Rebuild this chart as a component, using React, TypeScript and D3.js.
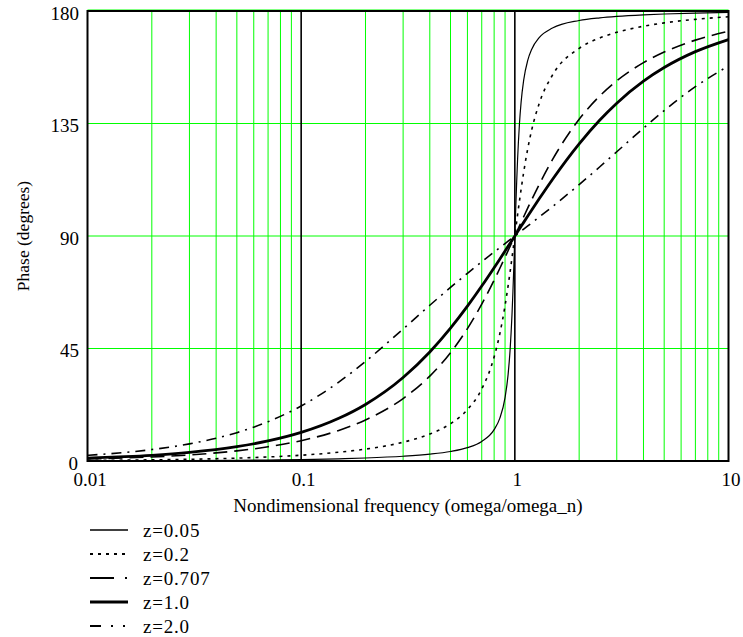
import React from "react";
import * as d3 from "d3";

// Frequency ratio (omega/omega_n)
const freq = [0.01, 0.015, 0.02, 0.03, 0.05, 0.07, 0.1, 0.15, 0.2, 0.3, 0.4, 0.5, 0.6, 0.7, 0.8, 0.85, 0.9, 0.93, 0.95, 0.97, 0.98, 0.99, 1.0, 1.01, 1.02, 1.03, 1.05, 1.07, 1.1, 1.15, 1.2, 1.3, 1.5, 2, 2.5, 3, 4, 5, 7, 10];

// Phase (degrees) per damping ratio
const phaseZ005 = [0.06, 0.09, 0.11, 0.17, 0.29, 0.4, 0.58, 0.88, 1.19, 1.89, 2.73, 3.81, 5.36, 7.82, 12.53, 17.04, 25.37, 34.54, 44.26, 58.65, 67.99, 78.63, 90, 101.26, 111.61, 120.59, 134.31, 143.55, 152.34, 160.36, 164.74, 169.33, 173.16, 176.19, 177.27, 177.85, 178.47, 178.81, 179.16, 179.42];
const phaseZ02 = [0.23, 0.34, 0.46, 0.69, 1.15, 1.61, 2.31, 3.51, 4.76, 7.51, 10.78, 14.93, 20.56, 28.77, 41.63, 50.78, 62.16, 70.04, 75.61, 81.34, 84.23, 87.12, 90, 92.85, 95.65, 98.41, 103.71, 108.7, 115.51, 125.03, 132.51, 143.0, 154.35, 165.07, 169.22, 171.47, 173.91, 175.24, 176.66, 177.69];
const phaseZ0707 = [0.81, 1.22, 1.62, 2.43, 4.05, 5.68, 8.13, 12.24, 16.42, 24.98, 33.96, 43.32, 52.97, 62.74, 72.35, 77.0, 81.51, 84.13, 85.85, 87.53, 88.36, 89.19, 90, 90.81, 91.6, 92.39, 93.95, 95.47, 97.69, 101.22, 104.54, 110.58, 120.51, 136.69, 146.04, 152.07, 159.34, 163.59, 168.35, 171.87];
const phaseZ10 = [1.15, 1.72, 2.29, 3.44, 5.73, 8.01, 11.42, 17.07, 22.62, 33.39, 43.6, 53.13, 61.93, 69.97, 77.32, 80.73, 83.97, 85.85, 87.06, 88.25, 88.84, 89.42, 90, 90.57, 91.13, 91.69, 92.79, 93.87, 95.45, 97.98, 100.39, 104.86, 112.62, 126.87, 136.4, 143.13, 151.93, 157.38, 163.74, 168.58];
const phaseZ20 = [2.29, 3.43, 4.58, 6.85, 11.34, 15.72, 22.01, 31.56, 39.81, 52.81, 62.3, 69.44, 75.07, 79.68, 83.58, 85.33, 86.98, 87.92, 88.53, 89.13, 89.42, 89.71, 90, 90.29, 90.57, 90.85, 91.4, 91.94, 92.73, 94.01, 95.24, 97.56, 101.77, 110.56, 117.7, 123.69, 133.15, 140.19, 149.74, 157.99];

const seriesLabels = ["z=0.05", "z=0.2", "z=0.707", "z=1.0", "z=2.0"];
const seriesValues = [phaseZ005, phaseZ02, phaseZ0707, phaseZ10, phaseZ20];

const xTickValues = [0.01, 0.1, 1, 10];
const xTickLabels = ["0.01", "0.1", "1", "10"];
const yTickValues = [0, 45, 90, 135, 180];

const styles = [
  { w: 1.2, dash: "", legendDash: "" },
  { w: 1.6, dash: "3,5", legendDash: "3,5" },
  { w: 1.6, dash: "14,7", legendDash: "24,11,2,10" },
  { w: 2.8, dash: "", legendDash: "" },
  { w: 1.6, dash: "10,6,2,6", legendDash: "11,10,2,10,2,10" },
];

const FONT = "Liberation Serif, Times New Roman, DejaVu Serif, serif";
const tStyle = { fontFamily: FONT };

export default function App() {
  const left = 87.5, right = 728.5, top = 11, bottom = 461;
  const x = d3.scaleLog().domain([0.01, 10]).range([left, right]);
  const y = d3.scaleLinear().domain([0, 180]).range([bottom, top]);

  const minor: number[] = [];
  [0.01, 0.1, 1].forEach((dec) => {
    for (let k = 2; k <= 9; k++) minor.push(dec * k);
  });

  const line = d3
    .line<number>()
    .x((_, i) => x(freq[i]))
    .y((d) => y(d))
    .curve(d3.curveMonotoneX);

  return (
    <svg
      width={743}
      height={637}
      style={{ position: "absolute", left: 0, top: 0, background: "#fff", fontFamily: FONT }}
    >
      <defs>
        <clipPath id="plotclip">
          <rect x={left} y={top - 1} width={right - left} height={bottom - top + 2} />
        </clipPath>
      </defs>
      {minor.map((v) => (
        <line key={"m" + v} x1={x(v)} x2={x(v)} y1={top} y2={bottom} stroke="#00ff00" strokeWidth={1} />
      ))}
      {[45, 90, 135].map((v) => (
        <line key={"h" + v} x1={left} x2={right} y1={y(v)} y2={y(v)} stroke="#00ff00" strokeWidth={1} />
      ))}
      <line x1={left} x2={right} y1={top - 1} y2={top - 1} stroke="#00ff00" strokeWidth={1} />
      {[0.1, 1].map((v) => (
        <line key={"d" + v} x1={x(v)} x2={x(v)} y1={top} y2={bottom} stroke="#000" strokeWidth={1.6} />
      ))}
      <g clipPath="url(#plotclip)">
        {seriesValues.map((vals, i) => (
          <path
            key={"s" + i}
            d={line(vals) || ""}
            fill="none"
            stroke="#000"
            strokeWidth={styles[i].w}
            strokeDasharray={styles[i].dash || undefined}
          />
        ))}
      </g>
      <rect x={left} y={top} width={right - left} height={bottom - top} fill="none" stroke="#000" strokeWidth={2} />
      {yTickValues.map((v) => (
        <text key={"yt" + v} style={tStyle} x={v === 0 ? 78 : 79} y={y(v) + (v === 0 ? 9 : 8.5)} textAnchor="end" fontSize={19}>
          {v}
        </text>
      ))}
      {xTickValues.map((v, i) => (
        <text key={"xt" + v} style={tStyle} x={x(v) + 2.5} y={486} textAnchor="middle" fontSize={19}>
          {xTickLabels[i]}
        </text>
      ))}
      <text style={tStyle} x={(left + right) / 2} y={512} textAnchor="middle" fontSize={19}>
        Nondimensional frequency (omega/omega_n)
      </text>
      <text style={tStyle} transform={`translate(29,${(top + bottom) / 2}) rotate(-90)`} textAnchor="middle" fontSize={17.5}>
        Phase (degrees)
      </text>
      {seriesLabels.map((lab, i) => {
        const by = 537 + i * 24;
        return (
          <g key={"lg" + i}>
            <line
              x1={90}
              x2={128}
              y1={by - 7}
              y2={by - 7}
              stroke="#000"
              strokeWidth={styles[i].w + 0.3}
              strokeDasharray={styles[i].legendDash || undefined}
            />
            <text style={tStyle} x={143} y={by} fontSize={19} letterSpacing={0.8}>
              {lab}
            </text>
          </g>
        );
      })}
    </svg>
  );
}
